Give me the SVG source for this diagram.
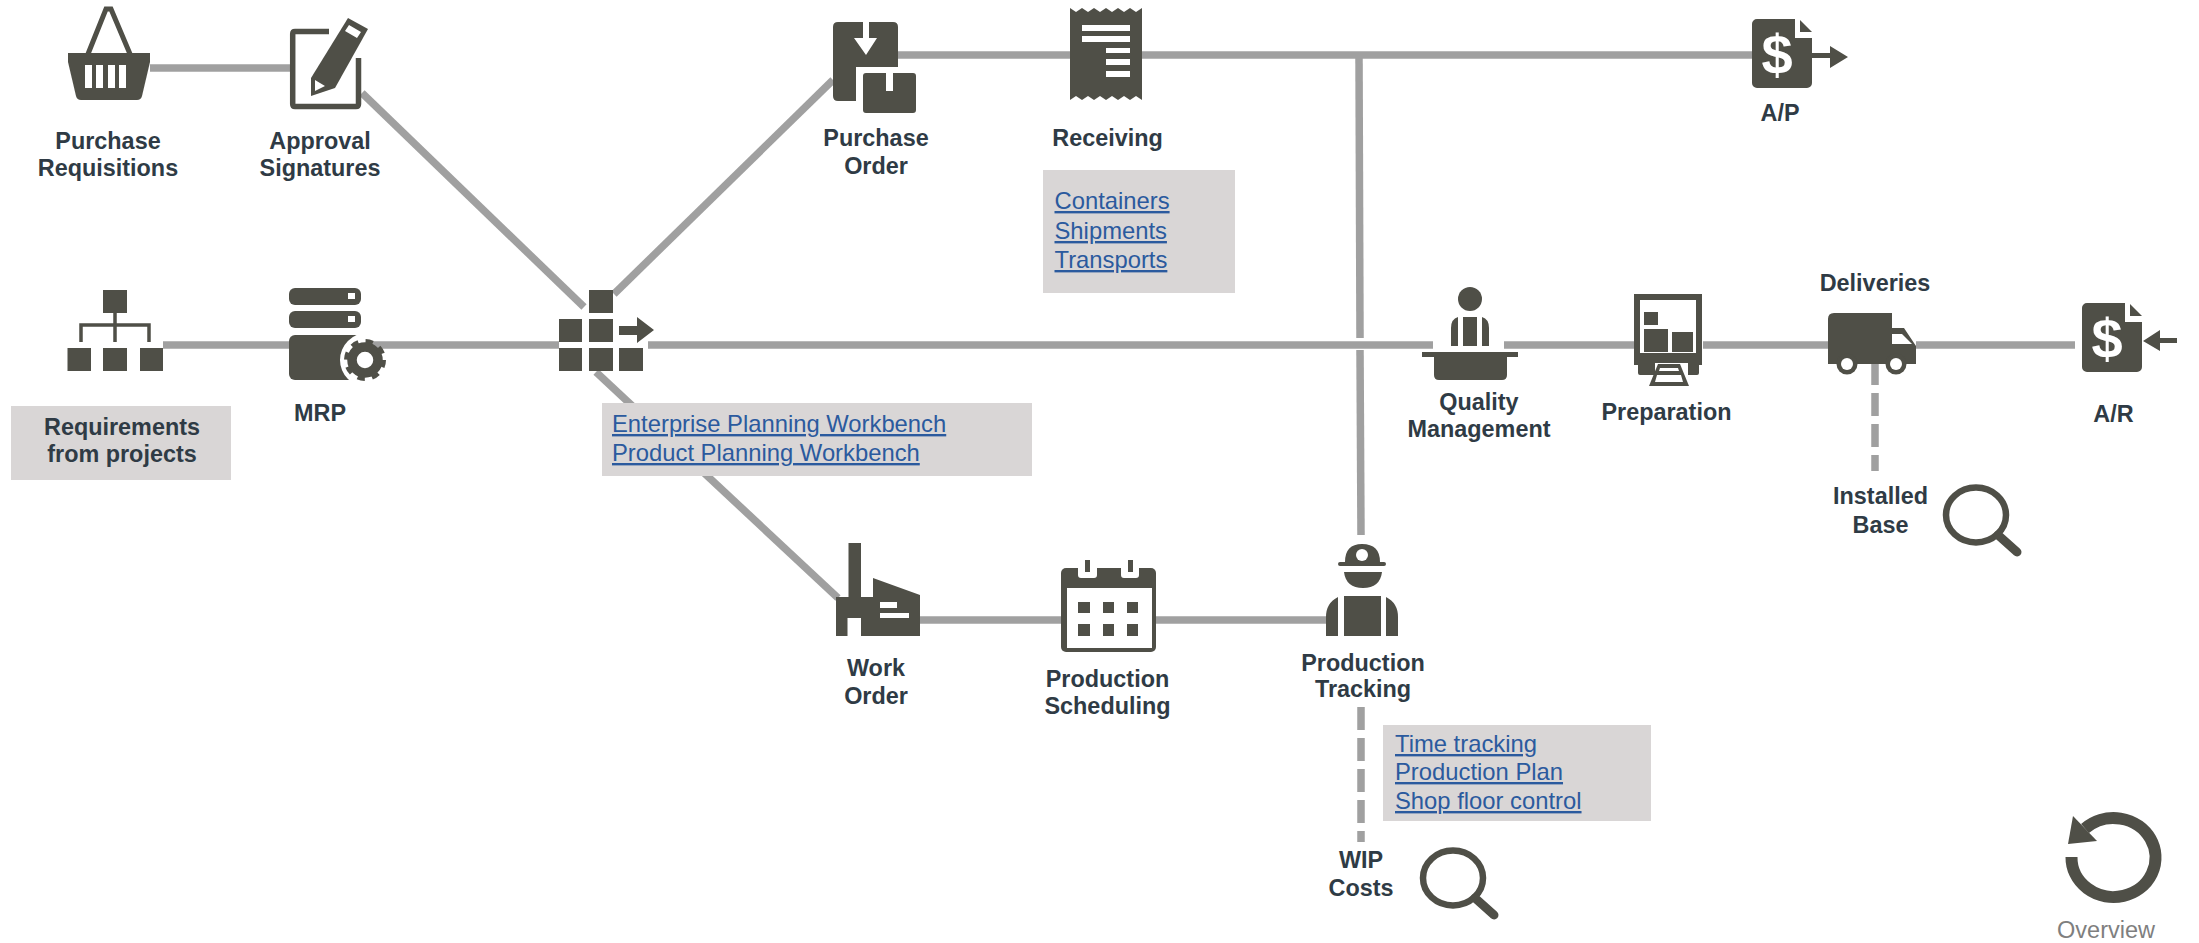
<svg xmlns="http://www.w3.org/2000/svg" xmlns:xlink="http://www.w3.org/1999/xlink" width="2199" height="943" viewBox="0 0 2199 943">
<style>
text{font-family:"Liberation Sans",Arial,sans-serif}
.lbl{font-size:23.4px;font-weight:700;fill:#2f3b45;text-anchor:middle}
.lnk{font-size:23.8px;fill:#2b5a9e;text-decoration:underline}
.ovw{font-size:23.5px;fill:#7f7f7f;text-anchor:middle}
.dlr{font-size:56px;font-weight:700;fill:#fff;text-anchor:middle}
.ic{fill:#4f4f47}
.icl{fill:none;stroke:#4f4f47}
.w{fill:#fff}
.box{fill:#d9d6d6}
.c{fill:none;stroke:#a0a0a0;stroke-width:7.5}
.d{stroke-dasharray:23 8}
</style>
<defs>
<g id="doc"><path class="ic" d="M5 0H43V19H60V64a5 5 0 0 1-5 5H5a5 5 0 0 1-5-5V5a5 5 0 0 1 5-5Z"/><path class="ic" d="M48 1L60 13H48Z"/></g>
<g id="lens"><ellipse class="icl" stroke-width="6.5" cx="0" cy="0" rx="30" ry="27.5"/><line class="icl" stroke-width="9" stroke-linecap="round" x1="22" y1="20" x2="41" y2="37"/></g>
</defs>
<rect width="2199" height="943" fill="#fff"/>
<g id="connectors">
<line class="c" x1="150" y1="68" x2="290" y2="68"/>
<line class="c" x1="163" y1="345" x2="290" y2="345"/>
<line class="c" x1="360" y1="345" x2="559" y2="345"/>
<line class="c" x1="362" y1="93" x2="584" y2="307"/>
<line class="c" x1="614" y1="294" x2="833" y2="80"/>
<line class="c" x1="596" y1="372" x2="838" y2="598"/>
<line class="c" x1="648" y1="345" x2="1433" y2="345"/>
<line class="c" x1="898" y1="55" x2="1752" y2="55"/>
<line class="c" x1="1359" y1="55" x2="1360" y2="338"/>
<line class="c" x1="1360" y1="350" x2="1361" y2="535"/>
<line class="c" x1="1504" y1="345" x2="1634" y2="345"/>
<line class="c" x1="1703" y1="345" x2="1828" y2="345"/>
<line class="c" x1="1916" y1="345" x2="2075" y2="345"/>
<line class="c" x1="920" y1="620" x2="1061" y2="620"/>
<line class="c" x1="1156" y1="620" x2="1327" y2="620"/>
<line class="c d" x1="1875" y1="362" x2="1875" y2="471"/>
<line class="c d" x1="1361" y1="707" x2="1361" y2="842"/>
</g>
<g id="purchase-requisitions">
<path class="icl" stroke-width="5" d="M88 54L106 9H111L130 54"/>
<path class="ic" d="M68 53H150V62L142 96Q141 100 137 100H81Q77 100 76 96L68 62Z"/>
<path class="w" d="M85 65H92V88H85ZM96 65H103V88H96ZM108 65H115V88H108ZM119 65H126V88H119Z"/>
<text class="lbl" x="108" y="149">Purchase</text><text class="lbl" x="108" y="176">Requisitions</text>
</g>
<g id="approval-signatures">
<path class="icl" stroke-width="5.500" d="M329 31.500H295Q292.700 31.500 292.700 34V104Q292.700 106.500 295 106.500H356Q358.500 106.500 358.500 104V58"/>
<path class="ic" d="M348 18L368 29L335 88L311 96L311 78Z"/>
<path class="w" d="M349 25L361 32L357 38L345 31ZM315 80L325 86L315 91Z"/>
<text class="lbl" x="320" y="149">Approval</text><text class="lbl" x="320" y="176">Signatures</text>
</g>
<g id="requirements">
<path class="ic" d="M103 290H127V313H103ZM67.500 348H91V371H67.500ZM103 348H127V371H103ZM140 348H163V371H140Z"/>
<path class="icl" stroke-width="3.500" d="M115 313V342M81 342V325H149V342"/>
<rect class="box" x="11" y="406" width="220" height="74"/>
<text class="lbl" x="122" y="435">Requirements</text><text class="lbl" x="122" y="462">from projects</text>
</g>
<g id="mrp">
<rect class="ic" x="289" y="288" width="72" height="17" rx="6"/><rect class="ic" x="289" y="311" width="72" height="17" rx="6"/>
<rect class="w" x="348" y="293" width="7" height="6"/><rect class="w" x="348" y="316" width="7" height="6"/>
<rect class="ic" x="289" y="335" width="72" height="45" rx="6"/>
<path class="w" d="M367 333A27 27 0 0 0 367 387H390V352H367Z"/>
<circle class="icl" cx="365" cy="360" r="13" stroke-width="9.500"/>
<circle class="icl" cx="365" cy="360" r="18" stroke-width="6" stroke-dasharray="7.100 7.040"/>
<text class="lbl" x="320" y="421">MRP</text>
</g>
<g id="planning">
<path class="ic" d="M589 290H613V313H589ZM559 319H582V342H559ZM589 319H613V342H589ZM559 348H582V371H559ZM589 348H613V371H589ZM619 348H643V371H619Z"/>
<path class="ic" d="M619 326H637V317L654 330L637 343V335H619Z"/>
<rect class="box" x="602" y="403" width="430" height="73"/>
<text class="lnk" x="612" y="432">Enterprise Planning Workbench</text><text class="lnk" x="612" y="461">Product Planning Workbench</text>
</g>
<g id="purchase-order">
<path class="ic" d="M838 22H863V38H854L866 55L877 38H869V22H893Q898 22 898 27V67H856V101H838Q833 101 833 96V27Q833 22 838 22Z"/>
<path class="ic" d="M866 73H886V91H893V73H913Q916 73 916 76V110Q916 113 913 113H866Q863 113 863 110V76Q863 73 866 73Z"/>
<text class="lbl" x="876" y="146">Purchase</text><text class="lbl" x="876" y="174">Order</text>
</g>
<g id="receiving">
<path class="ic" d="M1070 8L1076 12L1082 8L1088 12L1094 8L1100 12L1106 8L1112 12L1118 8L1124 12L1130 8L1136 12L1142 8V100L1136 96L1130 100L1124 96L1118 100L1112 96L1106 100L1100 96L1094 100L1088 96L1082 100L1076 96L1070 100Z"/>
<path class="w" d="M1082 25H1130V31H1082ZM1082 36H1130V42H1082ZM1106 48H1130V53H1106ZM1106 59H1130V65H1106ZM1106 71H1130V77H1106Z"/>
<text class="lbl" x="1107.500" y="146">Receiving</text>
<rect class="box" x="1043" y="170" width="192" height="123"/>
<text class="lnk" x="1054.500" y="209">Containers</text><text class="lnk" x="1054.500" y="239">Shipments</text><text class="lnk" x="1054.500" y="268">Transports</text>
</g>
<g id="ap">
<use xlink:href="#doc" href="#doc" x="1752" y="19"/>
<text class="dlr" x="1777" y="74">$</text>
<path class="ic" d="M1812 53H1830V46L1848 57L1830 68V58H1812Z"/>
<text class="lbl" x="1780" y="121">A/P</text>
</g>
<g id="quality-management">
<ellipse class="ic" cx="1470" cy="299" rx="12" ry="12"/>
<path class="ic" d="M1451 346V328Q1451 319 1458 317V346ZM1463 317H1477V346H1463ZM1482 317Q1489 319 1489 328V346H1482Z"/>
<path class="ic" d="M1422 352H1518V357H1507V375Q1507 380 1502 380H1439Q1434 380 1434 375V357H1422Z"/>
<text class="lbl" x="1479" y="410">Quality</text><text class="lbl" x="1479" y="437">Management</text>
</g>
<g id="preparation">
<path class="ic" fill-rule="evenodd" d="M1634 294H1702V365H1699V373Q1699 375 1697 375H1640Q1638 375 1638 373V365H1634ZM1640 300V353H1696V300Z"/>
<path class="ic" d="M1644 312H1658V325H1644ZM1644 329H1668V352H1644ZM1672 332H1693V352H1672Z"/>
<path class="w" d="M1655 363H1688V378H1655Z"/>
<path class="ic" d="M1658 364H1680L1689 386H1649Z"/>
<path class="w" d="M1660 368H1678L1679 371H1659ZM1657 375H1681L1683 382H1655Z"/>
<text class="lbl" x="1666.500" y="420">Preparation</text>
</g>
<g id="deliveries">
<path class="ic" d="M1834 313H1892V328H1904L1916 346V364H1828V319Q1828 313 1834 313Z"/>
<path class="w" d="M1892 334H1902L1912 344H1892Z"/>
<circle class="ic" cx="1847" cy="364" r="10.500"/><circle class="w" cx="1847" cy="364" r="6"/>
<circle class="ic" cx="1896" cy="364" r="10.500"/><circle class="w" cx="1896" cy="364" r="6"/>
<text class="lbl" x="1875" y="291">Deliveries</text>
</g>
<g id="ar">
<use xlink:href="#doc" href="#doc" x="2082" y="303"/>
<text class="dlr" x="2107" y="358">$</text>
<path class="ic" d="M2143 341L2160 330V338H2177V343H2160V351Z"/>
<text class="lbl" x="2113.500" y="422">A/R</text>
</g>
<g id="installed-base">
<use xlink:href="#lens" href="#lens" x="1976" y="515"/>
<text class="lbl" x="1880.500" y="504">Installed</text><text class="lbl" x="1880.500" y="533">Base</text>
</g>
<g id="work-order">
<path class="ic" d="M848.500 543H861V597H873V578L920 595V636H861V618H847.500V636H836V597H848.500Z"/>
<path class="w" d="M880 602H897V608H880ZM880 613H909V618H880Z"/>
<text class="lbl" x="876" y="676">Work</text><text class="lbl" x="876" y="704">Order</text>
</g>
<g id="production-scheduling">
<rect class="ic" x="1061" y="568" width="95" height="84" rx="5"/>
<rect class="w" x="1067" y="588" width="85" height="60"/>
<path class="w" d="M1078 567H1097V575Q1097 578 1094 578H1081Q1078 578 1078 575ZM1121 567H1139V575Q1139 578 1136 578H1124Q1121 578 1121 575Z"/>
<path class="ic" d="M1085 560H1090V572H1085ZM1128 560H1133V572H1128Z"/>
<path class="ic" d="M1078 602H1090V613H1078ZM1103 602H1114V613H1103ZM1127 602H1138V613H1127ZM1078 624H1090V636H1078ZM1103 624H1114V636H1103ZM1127 624H1138V636H1127Z"/>
<text class="lbl" x="1107.500" y="687">Production</text><text class="lbl" x="1107.500" y="714">Scheduling</text>
</g>
<g id="production-tracking">
<path class="ic" d="M1345 562Q1345 544 1362 544Q1380 544 1380 562H1384Q1386 562 1386 564T1384 566H1340Q1338 566 1338 564T1340 562Z"/>
<circle class="w" cx="1362" cy="555" r="6"/>
<path class="ic" d="M1344 572H1382Q1380 588 1363 588Q1346 588 1344 572Z"/>
<path class="ic" d="M1344 596H1381V636H1344ZM1338 597V636H1326V617Q1326 603 1338 597ZM1386 597Q1398 603 1398 617V636H1386Z"/>
<text class="lbl" x="1363" y="671">Production</text><text class="lbl" x="1363" y="697">Tracking</text>
<rect class="box" x="1383" y="725" width="268" height="96"/>
<text class="lnk" x="1395" y="752">Time tracking</text><text class="lnk" x="1395" y="780">Production Plan</text><text class="lnk" x="1395" y="809">Shop floor control</text>
</g>
<g id="wip-costs">
<use xlink:href="#lens" href="#lens" x="1453" y="878"/>
<text class="lbl" x="1361" y="868">WIP</text><text class="lbl" x="1361" y="896">Costs</text>
</g>
<g id="overview">
<path class="icl" stroke-width="12" d="M2071.500 857A42 39.500 0 1 0 2085 828.500"/>
<path class="ic" d="M2073 816L2097 841L2068 844Z"/>
<text class="ovw" x="2106" y="938">Overview</text>
</g>
</svg>
